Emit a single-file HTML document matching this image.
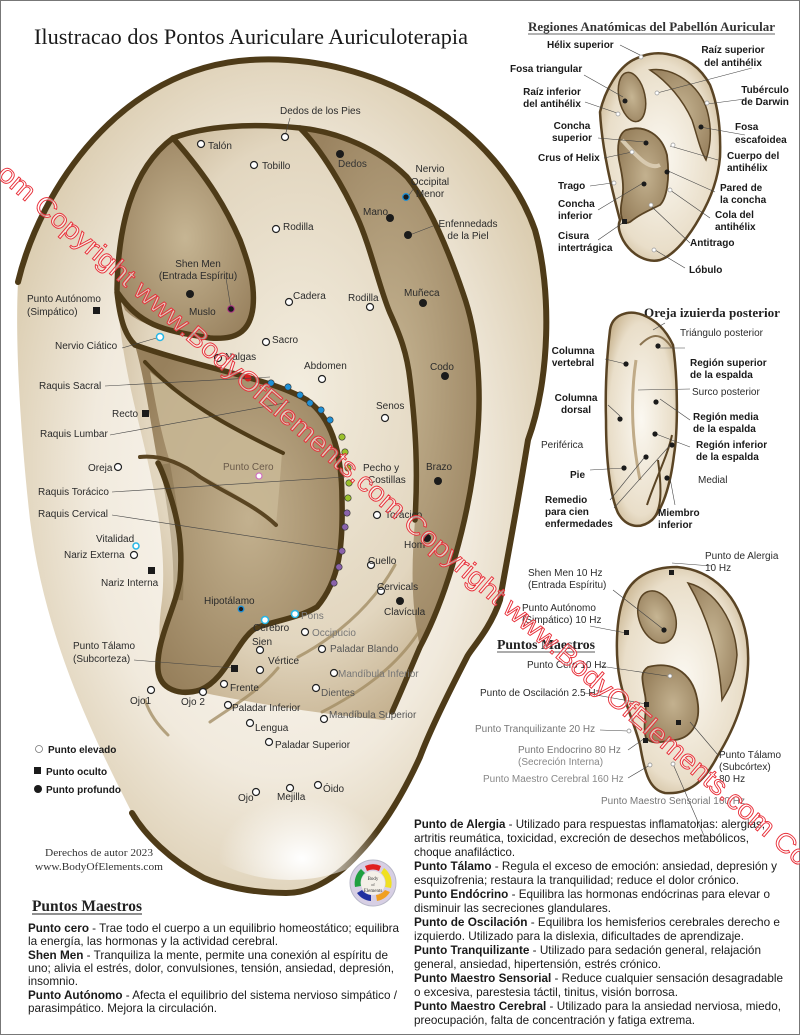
<!DOCTYPE html>
<html><head><meta charset="utf-8">
<style>
html,body{margin:0;padding:0;background:#fff;}
svg{display:block;}
.l{font-family:"Liberation Sans",sans-serif;font-size:10px;fill:#2b2b2b;}
.b{font-family:"Liberation Sans",sans-serif;font-size:10px;font-weight:bold;fill:#1a1a1a;}
.p{font-family:"Liberation Sans",sans-serif;font-size:12px;fill:#1a1a1a;}
.s{font-family:"Liberation Serif",serif;}
.ld{stroke:#444;stroke-width:0.6;fill:none;}
.w{fill:#fff;stroke:#222;stroke-width:1.2;}
.k{fill:#1b1b1b;}
</style></head>
<body>
<svg width="800" height="1035" viewBox="0 0 800 1035" xmlns="http://www.w3.org/2000/svg">
<defs>
<radialGradient id="outer" cx="0.5" cy="0.5" r="0.6">
<stop offset="0" stop-color="#fdfbf7"/><stop offset="0.6" stop-color="#f1eadd"/><stop offset="1" stop-color="#d6c6a6"/></radialGradient>
<radialGradient id="lobe" cx="0.55" cy="0.88" r="0.35">
<stop offset="0" stop-color="#ffffff"/><stop offset="1" stop-color="#ffffff" stop-opacity="0"/></radialGradient>
<radialGradient id="anti" cx="0.5" cy="0.45" r="0.6">
<stop offset="0" stop-color="#f3eddf"/><stop offset="0.7" stop-color="#e2d6bf"/><stop offset="1" stop-color="#c4b08e"/></radialGradient>
<radialGradient id="dark" cx="0.5" cy="0.5" r="0.6">
<stop offset="0" stop-color="#c6b593"/><stop offset="1" stop-color="#9a8360"/></radialGradient>
<radialGradient id="conch" cx="0.55" cy="0.5" r="0.6">
<stop offset="0" stop-color="#c3b18f"/><stop offset="1" stop-color="#97805c"/></radialGradient>
<radialGradient id="sm" cx="0.5" cy="0.5" r="0.6">
<stop offset="0" stop-color="#fbf8f1"/><stop offset="0.75" stop-color="#e9dec9"/><stop offset="1" stop-color="#c8b38e"/></radialGradient>
</defs>
<rect x="0.5" y="0.5" width="799" height="1034" fill="#fff" stroke="#777"/>

<text x="34" y="44" class="s" font-size="22" fill="#1a1a1a" textLength="434" lengthAdjust="spacingAndGlyphs">Ilustracao dos Pontos Auriculare Auriculoterapia</text>

<!-- BIG EAR -->
<path d="M18,282 C40,190 120,68 250,60 C380,52 500,130 535,230 C552,290 550,380 528,440 C515,520 505,570 500,600 C490,630 470,650 467,657 C450,690 430,730 420,757 C405,790 385,825 360,852 C335,880 310,893 286,893 C250,893 220,885 204,878 C170,860 145,835 132,813 C95,740 45,640 30,520 C20,430 15,340 18,282 Z" fill="url(#outer)"/>
<path d="M18,282 C40,190 120,68 250,60 C380,52 500,130 535,230 C552,290 550,380 528,440 C515,520 505,570 500,600 C490,630 470,650 467,657 C450,690 430,730 420,757 C405,790 385,825 360,852 C335,880 310,893 286,893 C250,893 220,885 204,878 C170,860 145,835 132,813" fill="none" stroke="#4e3b18" stroke-width="6" stroke-linecap="round"/>
<ellipse cx="290" cy="790" rx="120" ry="90" fill="url(#lobe)"/>

<path d="M117,287 C118,230 130,170 173,138 C205,126 250,123 300,128 C340,132 380,150 407,177 C430,205 450,255 463,293 C478,335 482,390 477,440 C470,520 445,600 420,647 C405,680 395,700 385,720 C330,715 260,705 200,692 C160,690 155,650 162,600 C168,540 150,470 138,420 C128,380 118,330 117,287 Z" fill="url(#anti)"/>
<path d="M300,128 C340,132 380,150 407,177 C430,205 450,255 463,293 C478,335 482,390 477,440 C470,520 445,600 420,647 C410,600 412,560 415,520 C418,470 415,420 407,353 C400,330 395,320 390,313 C380,290 373,267 365,240 C357,217 345,190 333,167 C322,150 310,135 300,128 Z" fill="url(#dark)"/>
<path d="M173,138 C150,150 128,190 120,233 C115,260 116,290 125,310 C140,325 160,330 210,338 C235,340 250,333 253,307 C255,285 250,267 240,240 C227,210 210,180 173,138 Z" fill="url(#dark)"/>
<path d="M135,345 C200,368 270,378 307,400 C335,420 342,460 342,500 C343,545 340,580 317,607 C295,620 265,622 253,630 C235,645 225,680 200,690 C180,696 160,690 158,670 C156,640 175,610 180,580 C183,545 178,520 170,495 C165,480 160,470 158,463 C150,420 145,380 135,345 Z" fill="url(#conch)"/>
<!-- crus of helix band (lighter) -->
<path d="M150,372 C185,400 235,430 282,453 C280,480 278,505 276,525 C250,500 215,480 170,462 C160,430 155,400 150,372 Z" fill="#c8b795" opacity="0.9"/>
<path d="M165,464 C175,520 180,560 178,600" stroke="#6b5532" stroke-width="10" fill="none" opacity="0.3"/>
<g fill="none" stroke="#4e3b18" stroke-width="5.5" stroke-linecap="round" stroke-linejoin="round">
<path d="M117,290 C118,230 130,170 173,138 C205,126 250,123 300,128 C340,132 380,150 407,177 C430,205 450,255 463,293 C478,335 482,390 477,440 C470,520 445,600 420,647 C410,670 402,690 392,712"/>
<path d="M300,128 C322,150 345,190 357,217 C370,245 380,290 390,313 C400,335 407,353 410,380 C416,430 418,470 415,520"/>
<path d="M173,138 C210,180 227,210 240,240 C250,267 255,285 253,307 C250,333 235,340 210,338 C160,330 140,325 117,292 C120,320 125,335 135,345 C200,368 270,378 307,400 C335,420 342,460 342,500 C343,545 340,580 317,607 C295,620 265,622 253,630 C235,645 225,680 200,690 C180,696 160,690 158,670 C156,640 175,610 180,580 C183,545 178,520 170,495 C166,482 162,470 158,463"/>
</g>
<path d="M145,362 C180,400 225,425 283,453" fill="none" stroke="#4e3b18" stroke-width="4" stroke-linecap="round"/>
<path d="M140,457 C160,455 180,462 200,477 C225,493 255,505 276,525" fill="none" stroke="#5a4522" stroke-width="4" stroke-linecap="round"/>
<g fill="none" stroke="#a08a60" stroke-width="3" stroke-linecap="round" opacity="0.75">
<path d="M210,722 C235,705 260,690 278,668"/>
<path d="M298,657 C330,640 370,610 395,565"/>
<path d="M322,712 C355,695 395,670 420,630"/>
<path d="M145,700 C150,715 158,725 168,735"/>
</g>

<g stroke="#333" stroke-width="0.6">
<circle cx="271" cy="383" r="3.2" fill="#1e90d6"/><circle cx="288" cy="387" r="3.2" fill="#1e90d6"/>
<circle cx="300" cy="395" r="3.2" fill="#1e90d6"/><circle cx="310" cy="403" r="3.2" fill="#1e90d6"/>
<circle cx="321" cy="410" r="3.2" fill="#1e90d6"/><circle cx="330" cy="420" r="3.2" fill="#1e90d6"/>
<circle cx="342" cy="437" r="3.2" fill="#9bc12c"/><circle cx="345" cy="452" r="3.2" fill="#9bc12c"/>
<circle cx="348" cy="468" r="3.2" fill="#9bc12c"/><circle cx="349" cy="483" r="3.2" fill="#9bc12c"/>
<circle cx="348" cy="498" r="3.2" fill="#9bc12c"/>
<circle cx="347" cy="513" r="3.2" fill="#8a62ab"/><circle cx="345" cy="527" r="3.2" fill="#8a62ab"/>
<circle cx="342" cy="551" r="3.2" fill="#8a62ab"/><circle cx="339" cy="567" r="3.2" fill="#8a62ab"/>
<circle cx="334" cy="583" r="3.2" fill="#8a62ab"/>
</g>
<circle cx="248" cy="378" r="3.5" fill="#d82020"/>

<g class="ld">
<path d="M285,136 L290,118"/><path d="M407,198 L414,188"/><path d="M407,236 L433,226"/>
<path d="M231,309 L226,278"/><path d="M122,348 L160,337"/>
<path d="M105,386 L270,377"/><path d="M110,435 L290,402"/>
<path d="M112,492 L345,477"/><path d="M112,515 L340,550"/>
<path d="M134,660 L234,668"/>
</g>

<g class="w">
<circle cx="285" cy="137" r="3.5"/><circle cx="201" cy="144" r="3.5"/><circle cx="254" cy="165" r="3.5"/>
<circle cx="276" cy="229" r="3.5"/><circle cx="289" cy="302" r="3.5"/><circle cx="370" cy="307" r="3.5"/>
<circle cx="266" cy="342" r="3.5"/><circle cx="218" cy="358" r="3.5"/><circle cx="322" cy="379" r="3.5"/>
<circle cx="385" cy="418" r="3.5"/><circle cx="118" cy="467" r="3.5"/><circle cx="377" cy="515" r="3.5"/>
<circle cx="134" cy="555" r="3.5"/><circle cx="371" cy="565" r="3.5"/><circle cx="381" cy="591" r="3.5"/>
<circle cx="305" cy="632" r="3.5"/><circle cx="322" cy="649" r="3.5"/><circle cx="260" cy="650" r="3.5"/>
<circle cx="334" cy="673" r="3.5"/><circle cx="260" cy="670" r="3.5"/>
<circle cx="224" cy="684" r="3.5"/><circle cx="151" cy="690" r="3.5"/><circle cx="203" cy="692" r="3.5"/>
<circle cx="316" cy="688" r="3.5"/><circle cx="228" cy="705" r="3.5"/><circle cx="324" cy="719" r="3.5"/>
<circle cx="250" cy="723" r="3.5"/><circle cx="269" cy="742" r="3.5"/><circle cx="256" cy="792" r="3.5"/>
<circle cx="290" cy="788" r="3.5"/><circle cx="318" cy="785" r="3.5"/>
</g>
<circle cx="259" cy="476" r="3" fill="#fff" stroke="#d070c0" stroke-width="1.2"/>
<g fill="#fff" stroke="#26b6e6" stroke-width="1.5">
<circle cx="160" cy="337" r="3.5"/><circle cx="136" cy="546" r="3"/><circle cx="265" cy="620" r="3.5"/><circle cx="295" cy="614" r="3.5"/>
</g>
<g stroke="#1e90d6" stroke-width="1.3" fill="#1b1b1b"><circle cx="406" cy="197" r="3.3"/><circle cx="241" cy="609" r="2.8"/></g>
<circle cx="231" cy="309" r="3.3" fill="#1b1b1b" stroke="#b0308a" stroke-width="1"/>
<g class="k">
<circle cx="340" cy="154" r="4"/><circle cx="390" cy="218" r="4"/><circle cx="408" cy="235" r="4"/>
<circle cx="190" cy="294" r="4"/><circle cx="423" cy="303" r="4"/><circle cx="445" cy="376" r="4"/>
<circle cx="438" cy="481" r="4"/><circle cx="427" cy="538" r="4"/><circle cx="400" cy="601" r="4"/>
<rect x="93" y="307" width="7" height="7"/><rect x="142" y="410" width="7" height="7"/>
<rect x="148" y="567" width="7" height="7"/><rect x="231" y="665" width="7" height="7"/>
</g>

<g class="l">
<text x="280" y="114">Dedos de los Pies</text>
<text x="208" y="149">Talón</text>
<text x="262" y="169">Tobillo</text>
<text x="338" y="167" fill="#333">Dedos</text>
<text x="430" y="172" text-anchor="middle">Nervio</text><text x="430" y="185" text-anchor="middle">Occipital</text><text x="430" y="197" text-anchor="middle">Menor</text>
<text x="363" y="215">Mano</text>
<text x="468" y="227" text-anchor="middle">Enfennedads</text><text x="468" y="239" text-anchor="middle">de la Piel</text>
<text x="283" y="230">Rodilla</text>
<text x="198" y="267" text-anchor="middle">Shen Men</text><text x="198" y="279" text-anchor="middle">(Entrada Espíritu)</text>
<text x="293" y="299">Cadera</text>
<text x="348" y="301">Rodilla</text>
<text x="404" y="296">Muñeca</text>
<text x="27" y="302">Punto Autónomo</text><text x="27" y="315">(Simpático)</text>
<text x="189" y="315">Muslo</text>
<text x="272" y="343">Sacro</text>
<text x="55" y="349">Nervio Ciático</text>
<text x="225" y="360">Nalgas</text>
<text x="304" y="369">Abdomen</text>
<text x="430" y="370">Codo</text>
<text x="39" y="389">Raquis Sacral</text>
<text x="112" y="417">Recto</text>
<text x="376" y="409">Senos</text>
<text x="40" y="437">Raquis Lumbar</text>
<text x="223" y="470" fill="#6a5a4a">Punto Cero</text>
<text x="363" y="471">Pecho y</text><text x="368" y="483">Costillas</text>
<text x="426" y="470">Brazo</text>
<text x="88" y="471">Oreja</text>
<text x="38" y="495">Raquis Torácico</text>
<text x="385" y="518">Torácico</text>
<text x="38" y="517">Raquis Cervical</text>
<text x="404" y="548">Hom</text>
<text x="96" y="542">Vitalidad</text>
<text x="64" y="558">Nariz Externa</text>
<text x="368" y="564">Cuello</text>
<text x="101" y="586">Nariz Interna</text>
<text x="377" y="590">Cervicals</text>
<text x="384" y="615">Clavícula</text>
<text x="204" y="604">Hipotálamo</text>
<text x="301" y="619" fill="#777">Pons</text>
<text x="253" y="631">Cerebro</text>
<text x="312" y="636" fill="#777">Occipucio</text>
<text x="252" y="645">Sien</text>
<text x="73" y="649">Punto Tálamo</text><text x="73" y="662">(Subcorteza)</text>
<text x="330" y="652" fill="#555">Paladar Blando</text>
<text x="268" y="664">Vértice</text>
<text x="338" y="677" fill="#777">Mandíbula Inferior</text>
<text x="230" y="691">Frente</text>
<text x="130" y="704">Ojo1</text>
<text x="181" y="705">Ojo 2</text>
<text x="321" y="696" fill="#555">Dientes</text>
<text x="232" y="711">Paladar Inferior</text>
<text x="329" y="718" fill="#555">Mandíbula Superior</text>
<text x="255" y="731">Lengua</text>
<text x="275" y="748">Paladar Superior</text>
<text x="238" y="801">Ojo</text>
<text x="277" y="800">Mejilla</text>
<text x="323" y="792">Óido</text>
</g>
<circle cx="39" cy="749" r="3.5" fill="#fff" stroke="#777" stroke-width="0.8"/>
<text x="48" y="753" class="b">Punto elevado</text>
<rect x="34" y="767" width="7" height="7" fill="#1b1b1b"/>
<text x="46" y="775" class="b">Punto oculto</text>
<circle cx="38" cy="789" r="4" fill="#1b1b1b"/>
<text x="46" y="793" class="b">Punto profundo</text>

<text x="45" y="856" class="s" font-size="10" fill="#333" textLength="108" lengthAdjust="spacingAndGlyphs">Derechos de autor 2023</text>
<text x="35" y="870" class="s" font-size="10" fill="#333" textLength="128" lengthAdjust="spacingAndGlyphs">www.BodyOfElements.com</text>

<g transform="translate(373,883)">
<circle r="23" fill="#d7cfe4" stroke="#b8b8c8"/>
<path d="M-8,-17 A19,19 0 0 1 8,-17 L6,-12 A13,13 0 0 0 -6,-12Z" fill="#e02020"/>
<path d="M11,-15 A19,19 0 0 1 18,5 L12,4 A13,13 0 0 0 8,-10Z" fill="#f0e020"/>
<path d="M17,9 A19,19 0 0 1 4,18 L3,12 A13,13 0 0 0 12,7Z" fill="#f0a020"/>
<path d="M-2,18 A19,19 0 0 1 -16,10 L-11,7 A13,13 0 0 0 -2,12Z" fill="#2030a0"/>
<path d="M-18,4 A19,19 0 0 1 -12,-14 L-8,-10 A13,13 0 0 0 -12,3Z" fill="#20a040"/>
<circle r="12" fill="#f4f0e8"/>
<text x="0" y="-3" font-family="Liberation Serif,serif" font-size="5" text-anchor="middle" fill="#333">Body</text>
<text x="0" y="3" font-family="Liberation Serif,serif" font-size="4" text-anchor="middle" fill="#333">of</text>
<text x="0" y="9" font-family="Liberation Serif,serif" font-size="5" text-anchor="middle" fill="#333">Elements</text>
</g>

<!-- RIGHT: ear 1 -->
<text x="528" y="31" class="s" font-size="12.5" font-weight="bold" fill="#333" textLength="247" lengthAdjust="spacingAndGlyphs">Regiones Anatómicas del Pabellón Auricular</text>
<line x1="528" y1="34" x2="775" y2="34" stroke="#333" stroke-width="0.8"/>
<path d="M600,112 C605,90 618,68 633,60 C645,54 655,52 667,54 C685,57 700,66 710,85 C718,105 721,130 720,157 C718,180 710,200 700,217 C690,235 675,255 660,260 C648,263 632,256 623,240 C618,230 618,225 620,220 C612,190 602,150 600,112 Z" fill="url(#sm)" stroke="#5a4424" stroke-width="2.5"/>
<ellipse cx="632" cy="97" rx="13" ry="25" transform="rotate(-12 632 97)" fill="url(#dark)" stroke="#5a4424" stroke-width="1.5"/>
<path d="M650,70 C672,66 700,85 707,110 C712,128 711,145 706,160 C700,150 697,135 692,120 C683,100 668,82 650,70 Z" fill="url(#dark)" stroke="#5a4424" stroke-width="1.5"/>
<path d="M626,130 C645,124 662,135 667,155 C670,178 667,198 660,205 C650,210 640,214 630,222 C622,226 619,215 622,200 C625,185 621,170 619,160 C617,148 618,134 626,130 Z" fill="url(#conch)" stroke="#5a4424" stroke-width="1.8"/>
<path d="M622,140 C640,160 650,170 660,165" stroke="#d8cab0" stroke-width="4" fill="none"/>
<g class="ld">
<path d="M620,45 L640,55"/><path d="M752,68 L657,93"/><path d="M584,75 L623,97"/><path d="M585,102 L617,113"/>
<path d="M745,99 L707,104"/><path d="M598,138 L645,142"/><path d="M745,135 L700,127"/><path d="M604,158 L632,152"/>
<path d="M718,160 L670,146"/><path d="M590,186 L612,183"/><path d="M715,192 L666,170"/><path d="M598,210 L643,183"/>
<path d="M710,218 L670,190"/><path d="M598,240 L624,222"/><path d="M690,243 L652,207"/><path d="M685,268 L655,250"/>
</g>
<g class="k"><circle cx="625" cy="101" r="2.5"/><circle cx="701" cy="127" r="2.5"/><circle cx="646" cy="143" r="2.5"/><circle cx="667" cy="172" r="2.5"/><circle cx="644" cy="184" r="2.5"/><rect x="622" y="219" width="5" height="5"/></g>
<g fill="#fff" stroke="#999" stroke-width="0.7"><circle cx="641" cy="57" r="2"/><circle cx="657" cy="93" r="2"/><circle cx="707" cy="103" r="2"/><circle cx="618" cy="114" r="2"/><circle cx="673" cy="145" r="2"/><circle cx="632" cy="152" r="2"/><circle cx="614" cy="183" r="2"/><circle cx="670" cy="190" r="2"/><circle cx="651" cy="205" r="2"/><circle cx="654" cy="250" r="2"/></g>
<g class="b">
<text x="547" y="48">Hélix superior</text>
<text x="733" y="53" text-anchor="middle">Raíz superior</text><text x="733" y="66" text-anchor="middle">del antihélix</text>
<text x="510" y="72">Fosa triangular</text>
<text x="552" y="95" text-anchor="middle">Raíz inferior</text><text x="552" y="107" text-anchor="middle">del antihélix</text>
<text x="765" y="93" text-anchor="middle">Tubérculo</text><text x="765" y="105" text-anchor="middle">de Darwin</text>
<text x="572" y="129" text-anchor="middle">Concha</text><text x="572" y="141" text-anchor="middle">superior</text>
<text x="735" y="130">Fosa</text><text x="735" y="143">escafoidea</text>
<text x="538" y="161">Crus of Helix</text>
<text x="727" y="159">Cuerpo del</text><text x="727" y="171">antihélix</text>
<text x="558" y="189">Trago</text>
<text x="720" y="191">Pared de</text><text x="720" y="203">la concha</text>
<text x="558" y="207">Concha</text><text x="558" y="219">inferior</text>
<text x="715" y="218">Cola del</text><text x="715" y="230">antihélix</text>
<text x="558" y="239">Cisura</text><text x="558" y="251">intertrágica</text>
<text x="690" y="246">Antitrago</text>
<text x="689" y="273">Lóbulo</text>
</g>

<!-- ear 2 posterior -->
<text x="644" y="317" class="s" font-size="12.5" font-weight="bold" fill="#222" textLength="136" lengthAdjust="spacingAndGlyphs">Oreja izuierda posterior</text>
<path d="M610,330 C612,315 628,309 643,315 C655,320 665,328 673,345 C678,380 678,430 674,455 C670,488 662,510 652,520 C640,530 626,527 618,513 C610,495 606,460 606,420 C605,385 607,355 610,330 Z" fill="url(#sm)" stroke="#5a4424" stroke-width="2.5"/>
<path d="M658,460 C662,490 662,510 652,520" fill="none" stroke="#5a4424" stroke-width="2"/>
<path d="M647,505 C655,480 668,455 672,435" fill="none" stroke="#5a4424" stroke-width="2"/>
<path d="M640,345 C650,335 660,330 672,348" fill="none" stroke="#8a7350" stroke-width="2"/>
<path d="M636,360 C630,400 632,440 640,480" fill="none" stroke="#c0ab88" stroke-width="3"/>
<g class="ld"><path d="M605,359 L626,364"/><path d="M653,330 L665,323"/><path d="M660,348 L685,348"/><path d="M690,389 L638,390"/>
<path d="M608,405 L620,416"/><path d="M660,399 L690,420"/><path d="M656,434 L690,447"/><path d="M590,470 L624,468"/>
<path d="M610,500 L644,458"/><path d="M614,508 L672,443"/><path d="M670,478 L675,505"/></g>
<g class="k"><circle cx="626" cy="364" r="2.6"/><circle cx="658" cy="346" r="2.6"/><circle cx="620" cy="419" r="2.6"/><circle cx="656" cy="402" r="2.6"/><circle cx="655" cy="434" r="2.6"/><circle cx="624" cy="468" r="2.6"/><circle cx="646" cy="457" r="2.6"/><circle cx="672" cy="445" r="2.6"/><circle cx="667" cy="478" r="2.6"/></g>
<g class="l" fill="#444"><text x="680" y="336">Triángulo posterior</text><text x="692" y="395">Surco posterior</text><text x="541" y="448">Periférica</text><text x="698" y="483">Medial</text></g>
<g class="b">
<text x="573" y="354" text-anchor="middle">Columna</text><text x="573" y="366" text-anchor="middle">vertebral</text>
<text x="690" y="366">Región superior</text><text x="690" y="378">de la espalda</text>
<text x="576" y="401" text-anchor="middle">Columna</text><text x="576" y="413" text-anchor="middle">dorsal</text>
<text x="693" y="420">Región media</text><text x="693" y="432">de la espalda</text>
<text x="696" y="448">Región inferior</text><text x="696" y="460">de la espalda</text>
<text x="570" y="478">Pie</text>
<text x="545" y="503">Remedio</text><text x="545" y="515">para cien</text><text x="545" y="527">enfermedades</text>
<text x="658" y="516">Miembro</text><text x="658" y="528">inferior</text>
</g>

<!-- ear 3 -->
<path d="M623,600 C630,578 650,567 677,567 C712,570 740,595 747,640 C752,680 740,720 717,757 C705,780 690,795 665,793 C650,790 645,775 640,745 C635,725 625,705 620,680 C615,655 616,620 623,600 Z" fill="url(#sm)" stroke="#5a4424" stroke-width="2.5"/>
<ellipse cx="657" cy="617" rx="18" ry="27" transform="rotate(-20 657 617)" fill="url(#dark)" stroke="#5a4424" stroke-width="1.5"/>
<path d="M688,583 C715,590 735,620 737,655 C735,680 728,690 722,700 C720,670 715,630 688,583 Z" fill="url(#dark)" stroke="#5a4424" stroke-width="1.5"/>
<path d="M648,667 C675,660 695,675 698,705 C700,725 690,738 675,740 C660,742 652,745 646,738 C642,725 648,710 645,695 C642,680 640,672 648,667 Z" fill="url(#conch)" stroke="#5a4424" stroke-width="1.8"/>
<g class="ld"><path d="M672,563 L712,566"/><path d="M613,590 L663,629"/><path d="M590,626 L626,633"/><path d="M600,666 L667,676"/>
<path d="M585,693 L646,704"/><path d="M600,730 L628,731"/><path d="M628,750 L645,738"/><path d="M628,778 L650,765"/><path d="M673,764 L705,838"/><path d="M690,722 L718,755"/></g>
<g class="k"><rect x="669" y="570" width="5" height="5"/><circle cx="664" cy="630" r="2.6"/><rect x="624" y="630" width="5" height="5"/><rect x="644" y="702" width="5" height="5"/><rect x="643" y="738" width="5" height="5"/><rect x="676" y="720" width="5" height="5"/></g>
<g fill="#fff" stroke="#888" stroke-width="0.7"><circle cx="670" cy="676" r="2"/><circle cx="629" cy="731" r="2"/><circle cx="650" cy="765" r="2"/><circle cx="673" cy="764" r="2"/></g>
<g class="l">
<text x="705" y="559">Punto de Alergia</text><text x="705" y="571">10 Hz</text>
<text x="528" y="576">Shen Men 10 Hz</text><text x="528" y="588">(Entrada Espíritu)</text>
<text x="522" y="611">Punto Autónomo</text><text x="522" y="623">(Simpático) 10 Hz</text>
<text x="527" y="668">Punto Cero 10 Hz</text>
<text x="480" y="696">Punto de Oscilación 2.5 Hz</text>
<text x="475" y="732" fill="#777">Punto Tranquilizante 20 Hz</text>
<text x="518" y="753" fill="#777">Punto Endocrino 80 Hz</text><text x="518" y="765" fill="#888">(Secreción Interna)</text>
<text x="483" y="782" fill="#888">Punto Maestro Cerebral 160 Hz</text>
<text x="719" y="758">Punto Tálamo</text><text x="719" y="770">(Subcórtex)</text><text x="719" y="782">80 Hz</text>
<text x="601" y="804" fill="#777">Punto Maestro Sensorial 160 Hz</text>
</g>
<text x="497" y="649" class="s" font-size="14" font-weight="bold" fill="#222" textLength="98" lengthAdjust="spacingAndGlyphs">Puntos Maestros</text>
<line x1="497" y1="652" x2="595" y2="652" stroke="#222" stroke-width="0.8"/>

<text x="32" y="911" class="s" font-size="16" font-weight="bold" fill="#222" textLength="110" lengthAdjust="spacingAndGlyphs">Puntos Maestros</text>
<line x1="32" y1="914" x2="142" y2="914" stroke="#222" stroke-width="1"/>
<g class="p">
<text x="28" y="932" textLength="371" lengthAdjust="spacingAndGlyphs"><tspan font-weight="bold">Punto cero</tspan> - Trae todo el cuerpo a un equilibrio homeostático; equilibra</text>
<text x="28" y="945" textLength="250" lengthAdjust="spacingAndGlyphs">la energía, las hormonas y la actividad cerebral.</text>
<text x="28" y="959" textLength="360" lengthAdjust="spacingAndGlyphs"><tspan font-weight="bold">Shen Men</tspan> - Tranquiliza la mente, permite una conexión al espíritu de</text>
<text x="28" y="972" textLength="366" lengthAdjust="spacingAndGlyphs">uno; alivia el estrés, dolor, convulsiones, tensión, ansiedad, depresión,</text>
<text x="28" y="985" textLength="50" lengthAdjust="spacingAndGlyphs">insomnio.</text>
<text x="28" y="999" textLength="369" lengthAdjust="spacingAndGlyphs"><tspan font-weight="bold">Punto Autónomo</tspan> - Afecta el equilibrio del sistema nervioso simpático /</text>
<text x="28" y="1012" textLength="189" lengthAdjust="spacingAndGlyphs">parasimpático. Mejora la circulación.</text>
</g>
<g class="p">
<text x="414" y="828" textLength="351" lengthAdjust="spacingAndGlyphs"><tspan font-weight="bold">Punto de Alergia</tspan> - Utilizado para respuestas inflamatorias: alergias,</text>
<text x="414" y="842" textLength="335" lengthAdjust="spacingAndGlyphs">artritis reumática, toxicidad, excreción de desechos metabólicos,</text>
<text x="414" y="856" textLength="101" lengthAdjust="spacingAndGlyphs">choque anafiláctico.</text>
<text x="414" y="870" textLength="363" lengthAdjust="spacingAndGlyphs"><tspan font-weight="bold">Punto Tálamo</tspan> - Regula el exceso de emoción: ansiedad, depresión y</text>
<text x="414" y="884" textLength="325" lengthAdjust="spacingAndGlyphs">esquizofrenia; restaura la tranquilidad; reduce el dolor crónico.</text>
<text x="414" y="898" textLength="356" lengthAdjust="spacingAndGlyphs"><tspan font-weight="bold">Punto Endócrino</tspan> - Equilibra las hormonas endócrinas para elevar o</text>
<text x="414" y="912" textLength="197" lengthAdjust="spacingAndGlyphs">disminuir las secreciones glandulares.</text>
<text x="414" y="926" textLength="366" lengthAdjust="spacingAndGlyphs"><tspan font-weight="bold">Punto de Oscilación</tspan> - Equilibra los hemisferios cerebrales derecho e</text>
<text x="414" y="940" textLength="330" lengthAdjust="spacingAndGlyphs">izquierdo. Utilizado para la dislexia, dificultades de aprendizaje.</text>
<text x="414" y="954" textLength="347" lengthAdjust="spacingAndGlyphs"><tspan font-weight="bold">Punto Tranquilizante</tspan> - Utilizado para sedación general, relajación</text>
<text x="414" y="968" textLength="247" lengthAdjust="spacingAndGlyphs">general, ansiedad, hipertensión, estrés crónico.</text>
<text x="414" y="982" textLength="369" lengthAdjust="spacingAndGlyphs"><tspan font-weight="bold">Punto Maestro Sensorial</tspan> - Reduce cualquier sensación desagradable</text>
<text x="414" y="996" textLength="264" lengthAdjust="spacingAndGlyphs">o excesiva, parestesia táctil, tinitus, visión borrosa.</text>
<text x="414" y="1010" textLength="367" lengthAdjust="spacingAndGlyphs"><tspan font-weight="bold">Punto Maestro Cerebral</tspan> - Utilizado para la ansiedad nerviosa, miedo,</text>
<text x="414" y="1024" textLength="281" lengthAdjust="spacingAndGlyphs">preocupación, falta de concentración y fatiga extrema.</text>
</g>

<text transform="translate(-4,176) rotate(40.7)" font-family="Liberation Sans,sans-serif" font-size="27" fill="#fff" fill-opacity="0.55" stroke="#e8303a" stroke-width="0.9" textLength="1060" lengthAdjust="spacingAndGlyphs">om Copyright www.BodyOfElements.com Copyright www.BodyOfElements.com Co</text>
</svg>
</body></html>
